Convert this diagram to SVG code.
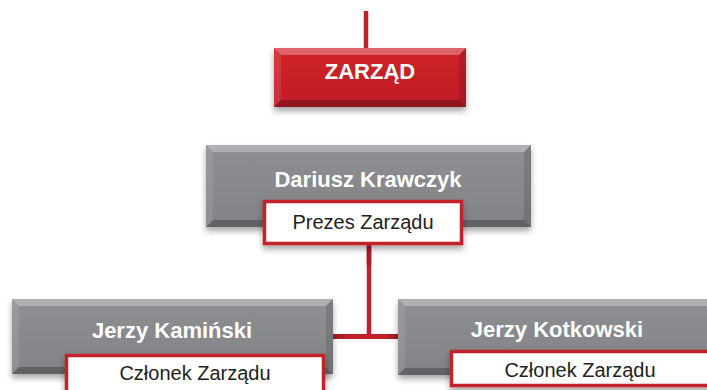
<svg xmlns="http://www.w3.org/2000/svg" width="707" height="390" viewBox="0 0 707 390">
<defs>
<linearGradient id="gGray" x1="0" y1="0" x2="0" y2="1">
<stop offset="0" stop-color="#8e8f93"/><stop offset="1" stop-color="#828387"/>
</linearGradient>
<linearGradient id="gRed" x1="0" y1="0" x2="0" y2="1">
<stop offset="0" stop-color="#cf2129"/><stop offset="1" stop-color="#c01e26"/>
</linearGradient>
<linearGradient id="gWhite" x1="0" y1="0" x2="0" y2="1">
<stop offset="0" stop-color="#ffffff"/><stop offset="1" stop-color="#eeeeee"/>
</linearGradient>
<filter id="sh" x="-10%" y="-20%" width="120%" height="150%">
<feDropShadow dx="0" dy="4" stdDeviation="3" flood-color="#000" flood-opacity="0.35"/>
</filter>
</defs>
<style>
.bt{fill:#fff;fill-opacity:0.3}
.bl{fill:#fff;fill-opacity:0.1}
.br{fill:#000;fill-opacity:0.12}
.bb{fill:#000;fill-opacity:0.25}
.gray{fill:url(#gGray)}
.red{fill:url(#gRed)}
.lbl{fill:#fff;stroke:#c4202a;stroke-width:3.5}
.name{font-family:"Liberation Sans",Arial,sans-serif;font-weight:bold;font-size:22px;fill:#fff;text-anchor:middle}
.role{font-family:"Liberation Sans",Arial,sans-serif;font-size:20px;fill:#222;text-anchor:middle}
.conn{stroke:#c0202a;fill:none}
</style>

<g id="connectors">
<line class="conn" x1="366" y1="11" x2="366" y2="50" stroke-width="4.5"/>
<line class="conn" x1="369" y1="244" x2="369" y2="337" stroke-width="4.5"/>
<line class="conn" x1="333" y1="336.5" x2="399" y2="336.5" stroke-width="5"/>
<line x1="333" y1="336.5" x2="345" y2="336.5" stroke="#a81c24" stroke-width="5"/>
<line x1="388" y1="336.5" x2="399" y2="336.5" stroke="#a81c24" stroke-width="5"/>
<line x1="369" y1="246" x2="369" y2="265" stroke="#a81c24" stroke-width="4.5"/>
</g>

<g id="zarzad">
<g filter="url(#sh)"><rect class="red" x="274" y="48" width="192" height="59"/></g>
<polygon class="bt" points="274,48 466,48 459,55 281,55"/>
<polygon class="bl" points="274,48 281,55 281,100 274,107"/>
<polygon class="br" points="466,48 466,107 459,100 459,55"/>
<polygon class="bb" points="274,107 281,100 459,100 466,107"/>
<text class="name" x="370" y="79" font-size="21">ZARZĄD</text>
</g>

<g id="dariusz">
<g filter="url(#sh)"><rect class="gray" x="206" y="145" width="325" height="82"/></g>
<polygon class="bt" points="206,145 531,145 524,152 213,152"/>
<polygon class="bl" points="206,145 213,152 213,220 206,227"/>
<polygon class="br" points="531,145 531,227 524,220 524,152"/>
<polygon class="bb" points="206,227 213,220 524,220 531,227"/>
<text class="name" x="368" y="187">Dariusz Krawczyk</text>
<g filter="url(#sh)"><rect class="lbl" x="264.5" y="201.5" width="197" height="42" fill="url(#gWhite)"/></g>
<text class="role" x="363" y="229">Prezes Zarządu</text>
</g>

<g id="kaminski">
<g filter="url(#sh)"><rect class="gray" x="12" y="299" width="321" height="75"/></g>
<polygon class="bt" points="12,299 333,299 326,306 19,306"/>
<polygon class="bl" points="12,299 19,306 19,367 12,374"/>
<polygon class="br" points="333,299 333,374 326,367 326,306"/>
<polygon class="bb" points="12,374 19,367 326,367 333,374"/>
<text class="name" x="172" y="338">Jerzy Kamiński</text>
<g filter="url(#sh)"><rect class="lbl" x="66.5" y="355.5" width="257" height="45" fill="url(#gWhite)"/></g>
<text class="role" x="195" y="380">Członek Zarządu</text>
</g>

<g id="kotkowski">
<g filter="url(#sh)"><rect class="gray" x="398" y="299" width="330" height="76"/></g>
<polygon class="bt" points="398,299 728,299 721,306 405,306"/>
<polygon class="bl" points="398,299 405,306 405,368 398,375"/>
<polygon class="bb" points="398,375 405,368 721,368 728,375"/>
<text class="name" x="557" y="337">Jerzy Kotkowski</text>
<g filter="url(#sh)"><rect class="lbl" x="451.5" y="351.5" width="260" height="34" fill="url(#gWhite)"/></g>
<text class="role" x="580" y="377">Członek Zarządu</text>
</g>
</svg>
